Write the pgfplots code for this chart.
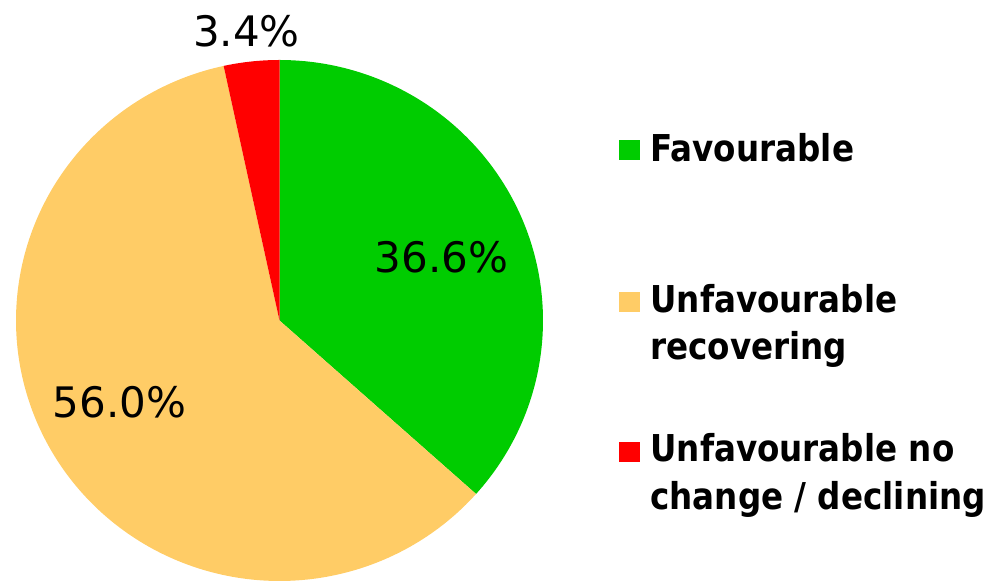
\documentclass[border=0pt]{standalone}
\usepackage{fontspec}
\setmainfont{DejaVu Sans}
\newfontfamily\legfont[FakeStretch=0.88]{DejaVu Sans}
\usepackage{pgfplots}
\pgfplotsset{compat=1.18}
\definecolor{cfav}{HTML}{00CC00}
\definecolor{crec}{HTML}{FFCC66}
\definecolor{cdec}{HTML}{FF0000}
% shares in percent (as printed on the chart)
\def\vFav{36.6}
\def\vRec{56.0}
\def\vDec{3.4}
\tikzset{pct/.style={font=\fontsize{21}{25}\selectfont, inner sep=0pt},
         leg/.style={anchor=base west, inner sep=0pt, font=\legfont\bfseries\fontsize{18.5}{22}\selectfont}}
\begin{document}
\begin{tikzpicture}
\pgfmathsetmacro{\aFavEnd}{90-3.6*\vFav}
\pgfmathsetmacro{\aDecEnd}{90+3.6*\vDec}
\pgfmathsetmacro{\aRecEnd}{360+\aFavEnd}
\begin{axis}[
  width=496pt, height=291pt, scale only axis,
  xmin=0, xmax=992, ymin=0, ymax=582,
  hide axis, clip=false,
]
\path (axis cs:0,0) rectangle (axis cs:992,582);
% slices: centre (279.5,261.5), radii 263.5 x 260.5 (pixel units)
\addplot[fill=cfav, draw=none, domain=90:\aFavEnd, samples=120, variable=\t]
  ({279.5+263.5*cos(\t)}, {261.5+260.5*sin(\t)}) -- (axis cs:279.5,261.5) -- cycle;
\addplot[fill=crec, draw=none, domain=\aDecEnd:\aRecEnd, samples=200, variable=\t]
  ({279.5+263.5*cos(\t)}, {261.5+260.5*sin(\t)}) -- (axis cs:279.5,261.5) -- cycle;
\addplot[fill=cdec, draw=none, domain=90:\aDecEnd, samples=30, variable=\t]
  ({279.5+263.5*cos(\t)}, {261.5+260.5*sin(\t)}) -- (axis cs:279.5,261.5) -- cycle;
% slice labels
\node[pct] at (axis cs:441.5,324.5) {36.6\%};
\node[pct] at (axis cs:119.5,180) {56.0\%};
\node[pct] at (axis cs:246.5,551) {3.4\%};
% legend
\fill[cfav] (axis cs:619,442) rectangle (axis cs:640,422);
\fill[crec] (axis cs:619,290) rectangle (axis cs:640,270);
\fill[cdec] (axis cs:619,140) rectangle (axis cs:640,120);
\node[leg] at (axis cs:650,420) {Favourable};
\node[leg] at (axis cs:650,269) {Unfavourable};
\node[leg] at (axis cs:650,222) {recovering};
\node[leg] at (axis cs:650,120) {Unfavourable no};
\node[leg] at (axis cs:650,72) {change / declining};
\end{axis}
\end{tikzpicture}
\end{document}
